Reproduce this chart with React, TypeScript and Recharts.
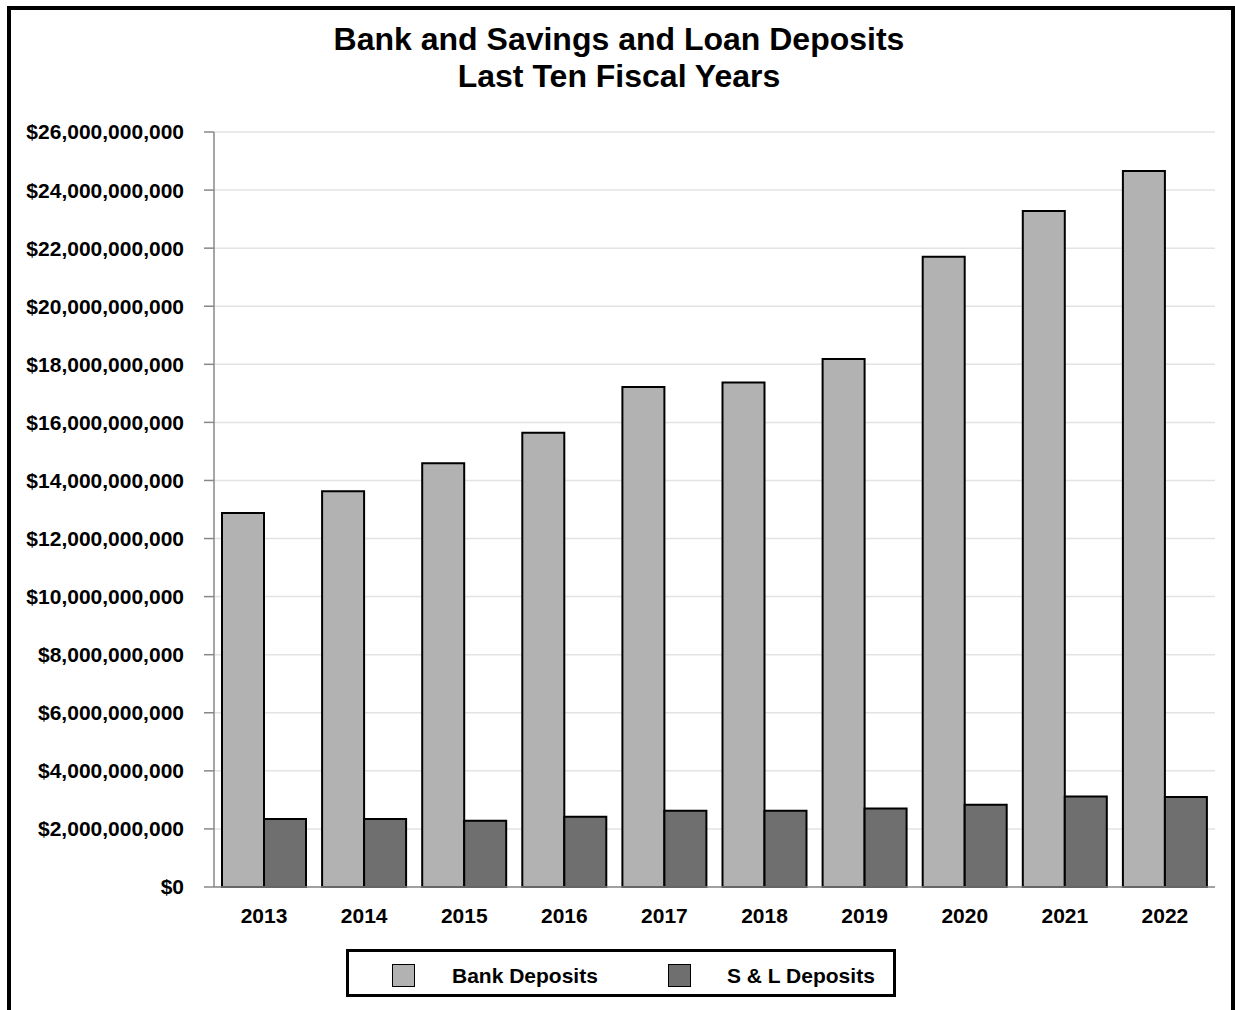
import React from "react";
import { BarChart, Bar, XAxis, YAxis, CartesianGrid, Legend } from "recharts";

const years = ["2013", "2014", "2015", "2016", "2017", "2018", "2019", "2020", "2021", "2022"];
const bankDeposits = [12.88e9, 13.63e9, 14.59e9, 15.64e9, 17.22e9, 17.37e9, 18.18e9, 21.7e9, 23.28e9, 24.66e9];
const slDeposits = [2.34e9, 2.34e9, 2.28e9, 2.42e9, 2.63e9, 2.63e9, 2.7e9, 2.83e9, 3.12e9, 3.1e9];
const yTicks = [0, 2e9, 4e9, 6e9, 8e9, 10e9, 12e9, 14e9, 16e9, 18e9, 20e9, 22e9, 24e9, 26e9];
const titleLines = ["Bank and Savings and Loan Deposits", "Last Ten Fiscal Years"];
const seriesNames = ["Bank Deposits", "S & L Deposits"];

const BANK_COLOR = "#b2b2b2";
const SL_COLOR = "#6f6f6f";
const FONT = "'Liberation Sans', Arial, Helvetica, sans-serif";

const data = years.map((y, i) => ({ year: y, bank: bankDeposits[i], sl: slDeposits[i] }));

const fmt = (v: number) => "$" + Math.round(v).toLocaleString("en-US");

const LegendBox = () => (
  <div
    style={{
      position: "relative",
      width: 550,
      height: 48,
      boxSizing: "border-box",
      border: "3px solid #000",
      background: "#fff",
      fontFamily: FONT,
      fontWeight: "bold",
      fontSize: 21,
      color: "#000",
    }}
  >
    {[BANK_COLOR, SL_COLOR].map((c, i) => (
      <React.Fragment key={i}>
        <div
          style={{
            position: "absolute",
            left: (i === 0 ? 46 : 322) - 3,
            top: 12,
            width: 23,
            height: 23,
            boxSizing: "border-box",
            border: "1.5px solid #000",
            background: c,
          }}
        />
        <div
          style={{
            position: "absolute",
            left: (i === 0 ? 106 : 381) - 3,
            top: 11,
            lineHeight: "26px",
            whiteSpace: "nowrap",
          }}
        >
          {seriesNames[i]}
        </div>
      </React.Fragment>
    ))}
  </div>
);

export default function App() {
  return (
    <div
      style={{
        position: "absolute",
        left: 0,
        top: 0,
        width: 1235,
        height: 1010,
        overflow: "hidden",
        background: "#fff",
      }}
    >
      <div
        style={{
          position: "absolute",
          left: 7,
          top: 6,
          width: 1228,
          height: 1040,
          boxSizing: "border-box",
          border: "4px solid #000",
        }}
      />
      <div
        style={{
          position: "absolute",
          left: 7,
          top: 21,
          width: 1224,
          textAlign: "center",
          fontFamily: FONT,
          fontWeight: "bold",
          fontSize: 32,
          lineHeight: "37px",
          color: "#000",
        }}
      >
        {titleLines.map((t) => (
          <div key={t}>{t}</div>
        ))}
      </div>
      <div style={{ position: "absolute", left: 0, top: 0 }}>
        <BarChart
          width={1235}
          height={1010}
          data={data}
          margin={{ top: 132, right: 20, left: 0, bottom: 0 }}
          barCategoryGap={8}
          barGap={0}
        >
          <CartesianGrid vertical={false} stroke="#e3e3e3" strokeWidth={1.5} />
          <XAxis
            dataKey="year"
            height={123}
            axisLine={{ stroke: "#888", strokeWidth: 1.5 }}
            tickLine={false}
            tickSize={0}
            tickMargin={21}
            tick={{ fill: "#000", fontSize: 21, fontWeight: "bold", fontFamily: FONT }}
          />
          <YAxis
            width={214}
            domain={[0, 26e9]}
            ticks={yTicks}
            interval={0}
            tickFormatter={fmt}
            axisLine={{ stroke: "#888", strokeWidth: 1.5 }}
            tickLine={{ stroke: "#888", strokeWidth: 1.5 }}
            tickSize={10}
            tickMargin={20}
            tick={{ fill: "#000", fontSize: 21, fontWeight: "bold", fontFamily: FONT }}
          />
          <Legend
            verticalAlign="middle"
            align="center"
            layout="horizontal"
            wrapperStyle={{ left: 346, top: 949, width: 550, height: 48 }}
            content={() => <LegendBox />}
          />
          <Bar dataKey="bank" name={seriesNames[0]} fill={BANK_COLOR} stroke="#000" strokeWidth={2} isAnimationActive={false} />
          <Bar dataKey="sl" name={seriesNames[1]} fill={SL_COLOR} stroke="#000" strokeWidth={2} isAnimationActive={false} />
        </BarChart>
      </div>
    </div>
  );
}
